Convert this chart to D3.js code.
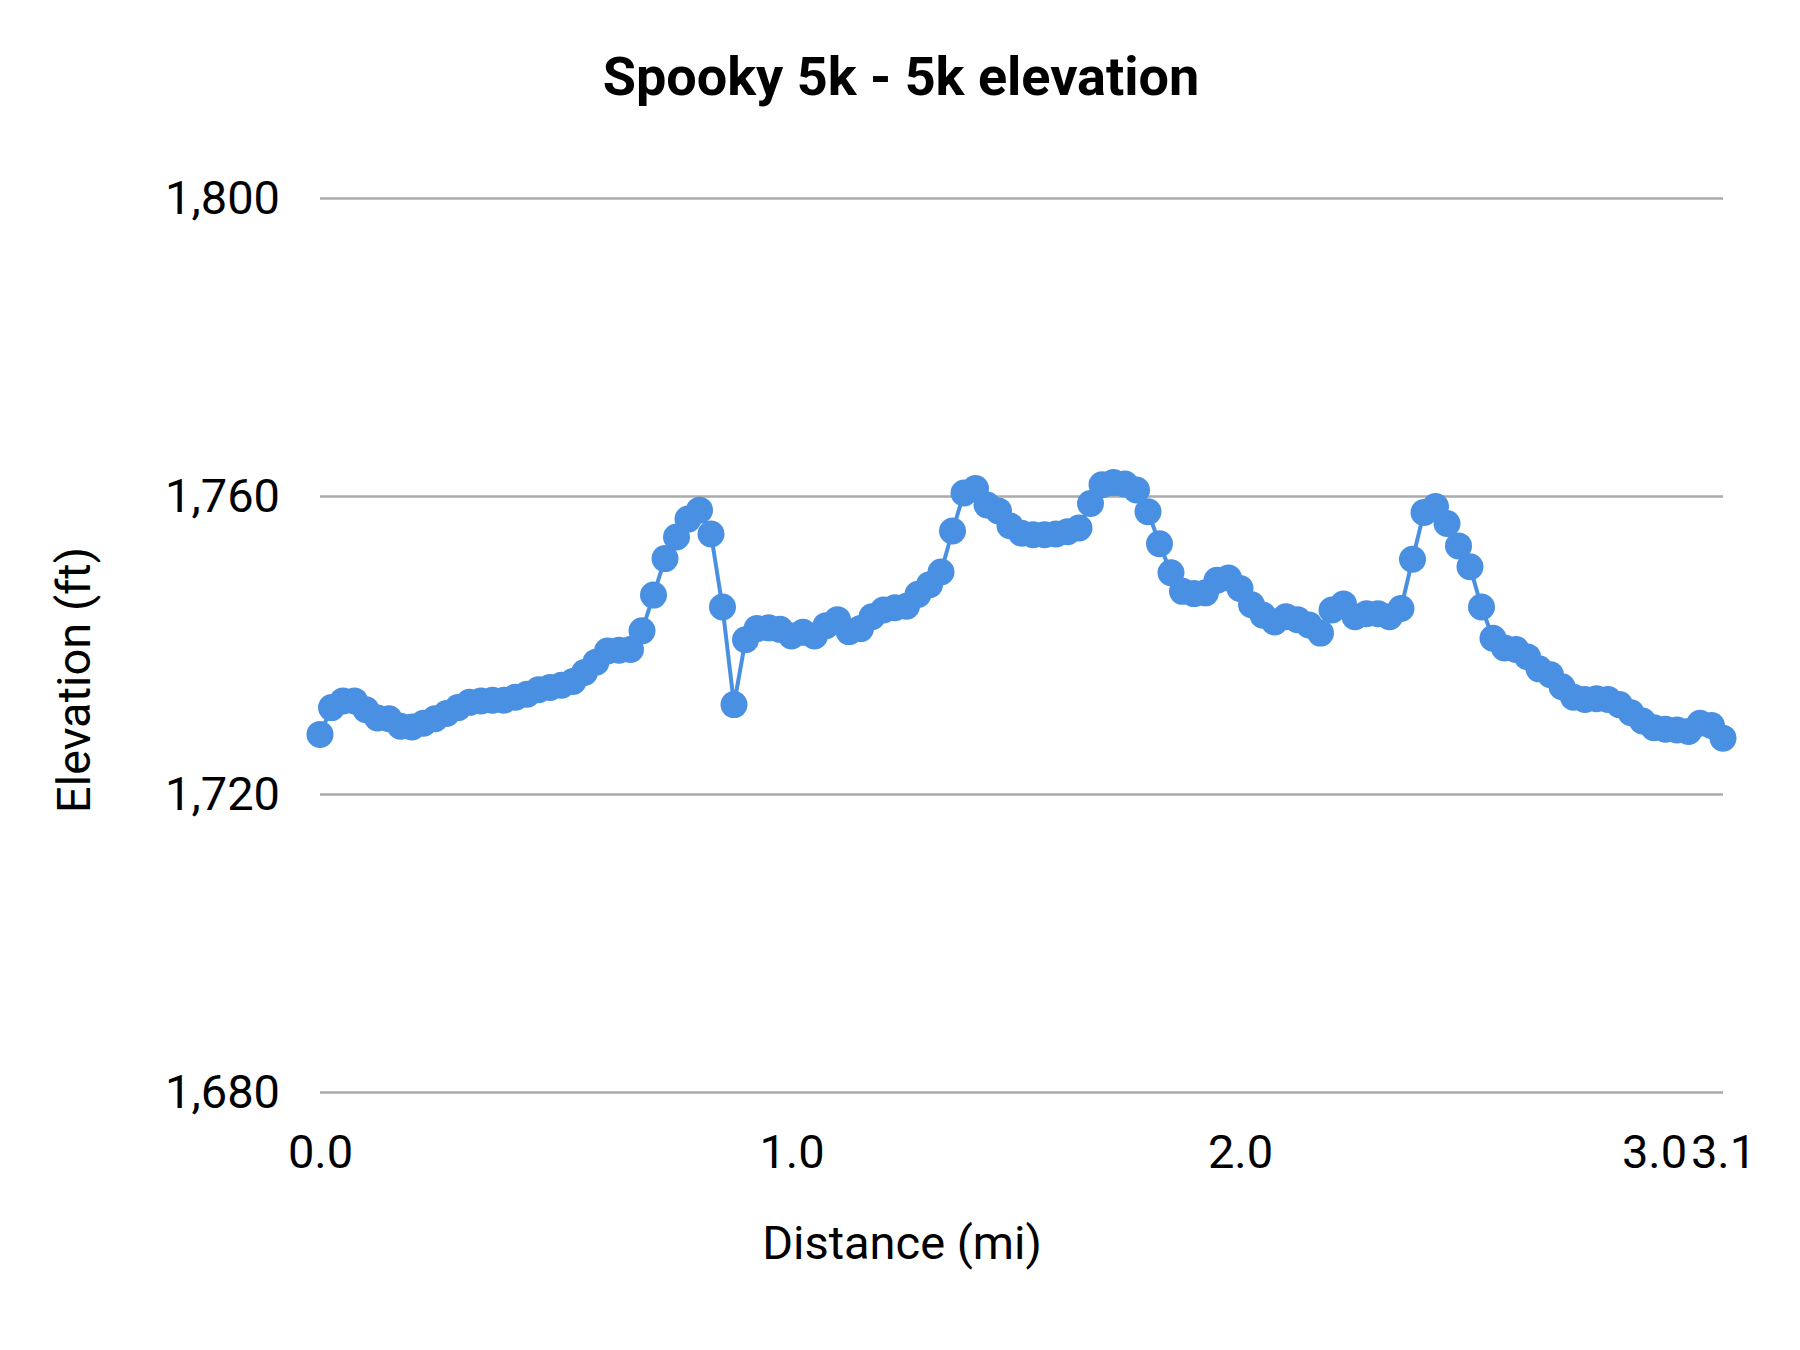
<!DOCTYPE html>
<html>
<head>
<meta charset="utf-8">
<script src="https://cdn.jsdelivr.net/npm/d3@7"></script>
<style>
  body { margin: 0; background: #fff; }
  svg { display: block; font-family: Roboto, "Noto Sans", sans-serif; }
  .grid line { stroke: #ababab; stroke-width: 2.5; }
  .axis text { font-family: Roboto, "Noto Sans", sans-serif; font-size: 47px; fill: #000; }
</style>
</head>
<body>
<svg id="chart" width="1800" height="1350"></svg>
<script>
// elevation (ft) per sample
var elevation = [
  1728.0, 1731.6, 1732.5, 1732.5, 1731.3, 1730.2, 1730.1, 1729.1, 1729.0, 1729.5,
  1730.1, 1730.8, 1731.6, 1732.3, 1732.5, 1732.6, 1732.6, 1733.0, 1733.4, 1734.0,
  1734.3, 1734.6, 1735.1, 1736.3, 1737.7, 1739.2, 1739.3, 1739.4, 1741.9, 1746.7,
  1751.6, 1754.5, 1756.9, 1758.1, 1754.9, 1745.1, 1732.0, 1740.7, 1742.2, 1742.3,
  1742.1, 1741.2, 1741.7, 1741.2, 1742.6, 1743.4, 1741.8, 1742.2, 1743.8, 1744.7,
  1745.0, 1745.2, 1746.8, 1748.1, 1749.8, 1755.3, 1760.4, 1761.0, 1758.8, 1758.0,
  1756.0, 1755.0, 1754.8, 1754.8, 1754.9, 1755.2, 1755.7, 1759.0, 1761.5, 1761.8,
  1761.6, 1760.8, 1757.9, 1753.6, 1749.7, 1747.2, 1746.9, 1747.0, 1748.7, 1749.0,
  1747.6, 1745.4, 1744.0, 1743.1, 1743.8, 1743.4, 1742.7, 1741.6, 1744.7, 1745.5,
  1743.8, 1744.2, 1744.2, 1743.8, 1744.9, 1751.5, 1757.8, 1758.6, 1756.3, 1753.3,
  1750.5, 1745.1, 1740.9, 1739.6, 1739.4, 1738.4, 1736.8, 1736.0, 1734.4, 1733.0,
  1732.7, 1732.8, 1732.7, 1732.0, 1730.9, 1729.8, 1728.9, 1728.7, 1728.6, 1728.4,
  1729.5, 1729.2, 1727.5
]

// samples where a distance label is shown, and the label text
var xTickIndex = [0, 41, 80, 116, 122]
var xTickLabels = ["0.0", "1.0", "2.0", "3.0", "3.1"]

var yTicks = [1680, 1720, 1760, 1800]

var title = "Spooky 5k - 5k elevation"
var xTitle = "Distance (mi)"
var yTitle = "Elevation (ft)"

var margin = { top: 198, right: 77, bottom: 258, left: 320 }
var width = 1800 - margin.left - margin.right
var height = 1350 - margin.top - margin.bottom

var svg = d3.select("#chart")
var g = svg.append("g")
    .attr("transform", "translate(" + margin.left + "," + margin.top + ")")

var xScale = d3.scalePoint()
    .domain(d3.range(elevation.length))
    .range([0, width])

var yScale = d3.scaleLinear()
    .domain([1680, 1800])
    .range([height, 0])

// gridlines + y labels
g.append("g")
    .attr("class", "axis grid")
    .call(d3.axisLeft(yScale)
        .tickValues(yTicks)
        .tickSize(-width)
        .tickPadding(40)
        .tickFormat(d3.format(",")))
    .call(a => a.select(".domain").remove())
    .selectAll("text")
    .attr("x", -40)

// x labels
var labelOf = {}
xTickIndex.forEach((d, i) => labelOf[d] = xTickLabels[i])

g.append("g")
    .attr("class", "axis")
    .attr("transform", "translate(0," + height + ")")
    .call(d3.axisBottom(xScale)
        .tickValues(xTickIndex)
        .tickSize(0)
        .tickPadding(43)
        .tickFormat(d => labelOf[d]))
    .call(a => a.select(".domain").remove())

var line = d3.line()
    .x((d, i) => xScale(i))
    .y(d => yScale(d))

g.append("path")
    .datum(elevation)
    .attr("fill", "none")
    .attr("stroke", "#4a90e2")
    .attr("stroke-width", 4)
    .attr("d", line)

g.selectAll(".dot")
    .data(elevation)
    .enter().append("circle")
    .attr("class", "dot")
    .attr("cx", (d, i) => xScale(i))
    .attr("cy", d => yScale(d))
    .attr("r", 13.5)
    .attr("fill", "#4a90e2")

// titles
svg.append("text")
    .attr("x", 901)
    .attr("y", 95)
    .attr("text-anchor", "middle")
    .style("font-size", "54px")
    .style("font-weight", "bold")
    .text(title)

svg.append("text")
    .attr("x", 902)
    .attr("y", 1259)
    .attr("text-anchor", "middle")
    .style("font-size", "47px")
    .text(xTitle)

svg.append("text")
    .attr("transform", "translate(90,680) rotate(-90)")
    .attr("text-anchor", "middle")
    .style("font-size", "47px")
    .text(yTitle)
</script>
</body>
</html>
